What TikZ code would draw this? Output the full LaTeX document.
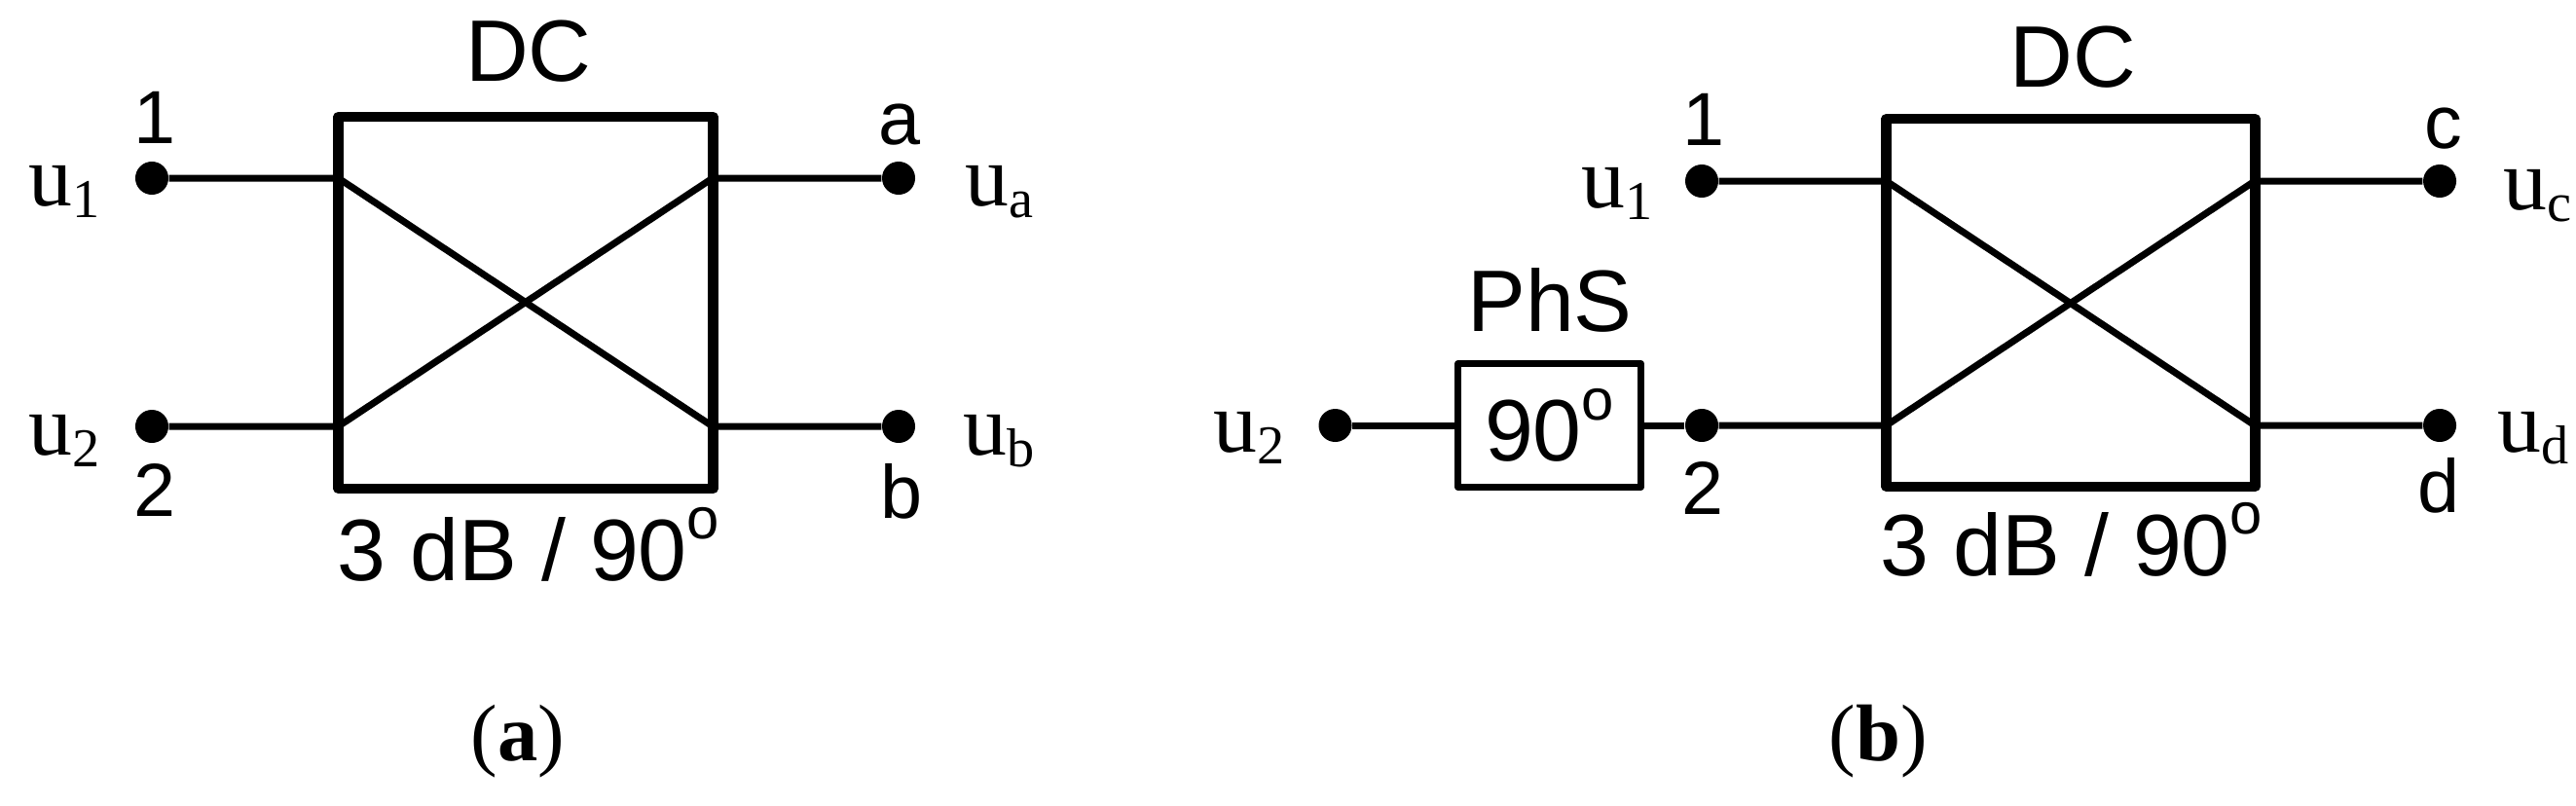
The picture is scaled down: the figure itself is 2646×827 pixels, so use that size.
\documentclass[tikz,border=0pt]{standalone}
\usepackage{fontspec}
\setmainfont{Liberation Serif}
\setsansfont{Liberation Sans}
\newcommand{\degsup}{\raisebox{.47em}{\fontsize{17}{17}\selectfont o}}
\newcommand{\usig}[1]{u\raisebox{-.14em}{\fontsize{16}{16}\selectfont #1}}
\tikzset{
	dcbox/.style={rectangle,draw,line width=.105cm,line join=round,inner sep=0pt},
	phsbox/.style={rectangle,draw,line width=.065cm,line join=round,inner sep=0pt,minimum width=1.88cm,minimum height=1.27cm,font=\sffamily\fontsize{25.5}{25.5}\selectfont},
	term/.style={circle,fill,inner sep=0pt,minimum size=.34cm},
	port/.style={anchor=base,font=\sffamily\fontsize{22}{22}\selectfont,inner sep=0pt},
	title/.style={anchor=base,font=\sffamily\fontsize{25.5}{25.5}\selectfont,inner sep=0pt},
	sig/.style={anchor=base west,font=\rmfamily\fontsize{25.5}{25.5}\selectfont,inner sep=0pt},
	wire/.style={line width=.07cm},
	caption/.style={anchor=base,font=\rmfamily\fontsize{23.5}{23.5}\selectfont,inner sep=0pt}
}
\begin{document}
\begin{tikzpicture}[x=.01cm,y=-.01cm]
	\useasboundingbox (0,0) rectangle (2646,827);
	% left coupler
	\node[dcbox,minimum width=3.845cm,minimum height=3.82cm] (dcl) at (540,311) {};
	\coordinate (dcl1) at (347.5,183);
	\coordinate (dcl2) at (347.5,438);
	\coordinate (dcla) at (732,183);
	\coordinate (dclb) at (732,438);
	\node[term] (t1) at (156,183) {};
	\node[term] (t2) at (156,438) {};
	\node[term] (ta) at (923,183) {};
	\node[term] (tb) at (923,438) {};
	\draw[wire] (t1) -- (dcl1) -- (dclb) -- (tb);
	\draw[wire] (t2) -- (dcl2) -- (dcla) -- (ta);
	\node[title] (dcltitle) at (543,83) {DC};
	\node[title] (dclspec) at (543,596) {3 dB / 90\degsup};
	\node[port] (n1) at (159,147) {1};
	\node[port] (n2) at (159,530) {2};
	\node[port] (na) at (924,148) {a};
	\node[port] (nb) at (926,532) {b};
	\node[sig] (su1) at (29,211) {\usig{1}};
	\node[sig] (su2) at (29,467) {\usig{2}};
	\node[sig] (sua) at (991,211) {\usig{a}};
	\node[sig] (sub) at (989,467) {\usig{b}};
	\node[caption] (capa) at (532,781) {(\textbf{a})};
	% right coupler
	\node[dcbox,minimum width=3.785cm,minimum height=3.775cm] (dcr) at (2127,311) {};
	\coordinate (dcr1) at (1937.5,186);
	\coordinate (dcr2) at (1937.5,437);
	\coordinate (dcrc) at (2316,186);
	\coordinate (dcrd) at (2316,437);
	\node[term] (r1) at (1748,186) {};
	\node[term] (r2) at (1748,437) {};
	\node[term] (r0) at (1371.5,437) {};
	\node[term] (rc) at (2506,186) {};
	\node[term] (rd) at (2506,437) {};
	\node[phsbox] (phs) at (1591.5,437) {90\degsup};
	\draw[wire] (r1) -- (dcr1) -- (dcrd) -- (rd);
	\draw[wire] (r2) -- (dcr2) -- (dcrc) -- (rc);
	\draw[wire] (r0) -- (phs);
	\draw[wire] (phs) -- (r2);
	\node[title] (dcrtitle) at (2129,89) {DC};
	\node[title] (dcrspec) at (2128,591) {3 dB / 90\degsup};
	\node[title] (phstitle) at (1592,340) {PhS};
	\node[port] (m1) at (1750,149) {1};
	\node[port] (m2) at (1749,528) {2};
	\node[port] (mc) at (2510,152) {c};
	\node[port] (md) at (2505,526) {d};
	\node[sig] (ru1) at (1624,213) {\usig{1}};
	\node[sig] (ru2) at (1246,464) {\usig{2}};
	\node[sig] (ruc) at (2571,215) {\usig{c}};
	\node[sig] (rud) at (2565,464) {\usig{d}};
	\node[caption] (capb) at (1929,781) {(\textbf{b})};
\end{tikzpicture}
\end{document}
